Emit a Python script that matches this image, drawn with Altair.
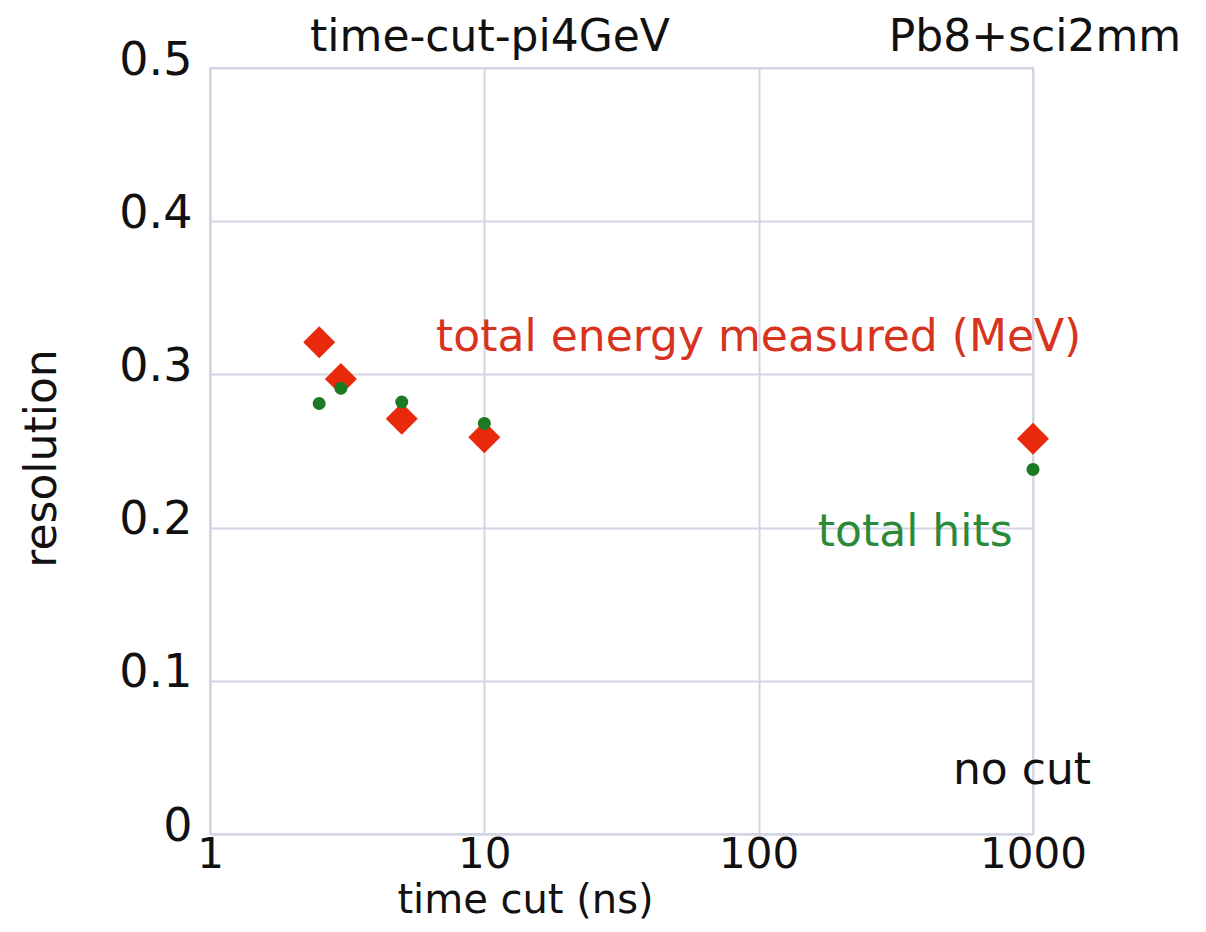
import altair as alt
import pandas as pd

# data
time_cut = [2.5, 3, 5, 10, 1000]
energy_res = [0.321, 0.297, 0.271, 0.259, 0.258]
hits_res = [0.281, 0.291, 0.282, 0.268, 0.238]

ann_text = ["total energy measured (MeV)", "total hits", "no cut"]
ann_x = [100, 372, 912]
ann_y = [0.324, 0.1965, 0.041]
ann_color = ["#d8331e", "#2b8a3a", "#111111"]

FONT = "DejaVu Sans"
FS = 44
W, H = 823, 766

energy = pd.DataFrame({"t": time_cut, "r": energy_res})
hits = pd.DataFrame({"t": time_cut, "r": hits_res})
ann = pd.DataFrame({"text": ann_text, "t": ann_x, "r": ann_y, "c": ann_color})

xscale = alt.Scale(type="log", domain=[1, 1000], nice=False)
yscale = alt.Scale(domain=[0, 0.5], nice=False)

xaxis = alt.Axis(values=[1, 10, 100, 1000], format="d", title="time cut (ns)",
                 titleX=315, titleY=66, titleBaseline="middle", titleAlign="center",
                 titleFontSize=40,
                 labelFlush=False, labelPadding=0, labelFontSize=42)
yaxis = alt.Axis(values=[0, 0.1, 0.2, 0.3, 0.4, 0.5], format="~g", title="resolution",
                 titleX=-168, titleY=390, titleAngle=-90, titleBaseline="middle",
                 titleAlign="center", labelPadding=18, labelFlush=False, labelOffset=-8,
                 labelFontSize=46, titleFontSize=FS)

base = alt.Chart(energy).encode(
    x=alt.X("t:Q", scale=xscale, axis=xaxis),
    y=alt.Y("r:Q", scale=yscale, axis=yaxis),
)

red = base.mark_point(shape="diamond", filled=True, size=1024, color="#e8290b", opacity=1)

green = alt.Chart(hits).mark_point(shape="circle", filled=True, size=169,
                                   color="#1c7a24", opacity=1).encode(
    x=alt.X("t:Q", scale=xscale), y=alt.Y("r:Q", scale=yscale))

labels = alt.Chart(ann).mark_text(font=FONT, fontSize=FS, align="center",
                                  baseline="middle").encode(
    x=alt.X("t:Q", scale=xscale), y=alt.Y("r:Q", scale=yscale),
    text="text:N", color=alt.Color("c:N", scale=None))

top_title = pd.DataFrame({"text": ["time-cut-pi4GeV", "Pb8+sci2mm"], "px": [280, 825]})
tops = alt.Chart(top_title).mark_text(font=FONT, fontSize=FS, align="center",
                                      baseline="middle", color="#111111").encode(
    x=alt.X("px:Q", scale=None), y=alt.value(-30), text="text:N")

chart = alt.layer(red, green, labels, tops).properties(
    width=W, height=H,
    autosize=alt.AutoSizeParams(type="none"),
    padding={"left": 202, "top": 60, "right": 165, "bottom": 90},
).configure_view(stroke="#d4d4e4", strokeWidth=2).configure_axis(
    labelFont=FONT, labelColor="#111111",
    titleFont=FONT, titleColor="#111111", titleFontWeight="normal",
    gridColor="#d4d4e4", gridWidth=2, domainColor="#d4d4e4", domainWidth=2,
    tickSize=0,
)

chart.save("out.html", embed_options={"renderer": "svg", "actions": False})
